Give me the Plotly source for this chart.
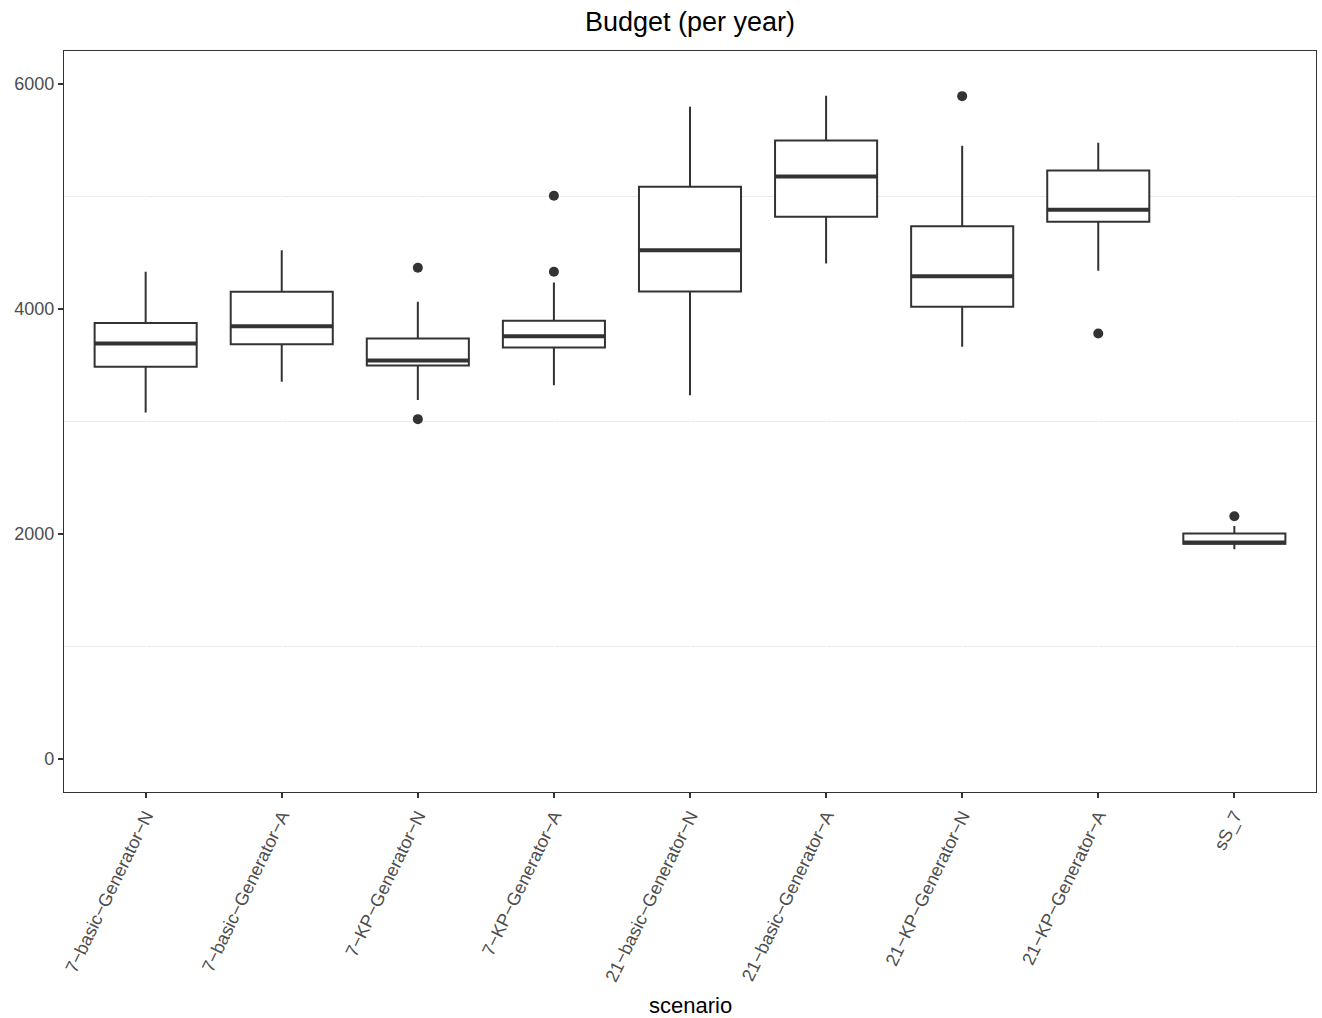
import plotly.graph_objects as go

categories = ["7−basic−Generator−N", "7−basic−Generator−A", "7−KP−Generator−N",
              "7−KP−Generator−A", "21−basic−Generator−N", "21−basic−Generator−A",
              "21−KP−Generator−N", "21−KP−Generator−A", "sS_7"]
lower_whisker = [3080, 3351, 3189, 3322, 3233, 4403, 3662, 4337, 1865]
q1_vals = [3485, 3686, 3497, 3657, 4154, 4817, 4018, 4773, 1912]
median_vals = [3692, 3846, 3541, 3757, 4521, 5176, 4290, 4879, 1925]
q3_vals = [3873, 4151, 3737, 3893, 5084, 5496, 4734, 5229, 2005]
upper_whisker = [4329, 4521, 4062, 4234, 5794, 5892, 5448, 5474, 2070]
outlier_cat = ["7−KP−Generator−N", "7−KP−Generator−N", "7−KP−Generator−A",
               "7−KP−Generator−A", "21−KP−Generator−N", "21−KP−Generator−A", "sS_7"]
outlier_val = [4364, 3020, 5004, 4329, 5889, 3781, 2158]

ink = "#333333"
fig = go.Figure()
fig.add_trace(go.Box(
    x=categories, q1=q1_vals, median=median_vals, q3=q3_vals,
    lowerfence=lower_whisker, upperfence=upper_whisker,
    width=0.75, fillcolor="white", line=dict(color=ink, width=2),
    whiskerwidth=0, boxpoints=False, showlegend=False, hoverinfo="skip"))
# thicker median line as in ggplot
fig.add_trace(go.Scatter(
    x=categories, y=median_vals, mode="markers",
    marker=dict(symbol="line-ew", size=73.5, line=dict(color=ink, width=4)),
    showlegend=False, hoverinfo="skip"))
fig.add_trace(go.Scatter(
    x=outlier_cat, y=outlier_val, mode="markers",
    marker=dict(symbol="circle", size=10, color=ink),
    showlegend=False, hoverinfo="skip"))

font = "Liberation Sans, Arial, sans-serif"
fig.update_layout(
    width=1322, height=1018,
    margin=dict(l=64, r=6, t=51, b=226),
    paper_bgcolor="white", plot_bgcolor="white",
    font=dict(family=font, color="#4d4d4d"),
    title=dict(text="Budget (per year)", x=0.5, xref="paper", y=1 - 22 / 1018,
               yref="container", xanchor="center", yanchor="middle",
               font=dict(size=27, color="black", family=font)),
    showlegend=False,
)
fig.update_xaxes(
    type="category", categoryorder="array", categoryarray=categories,
    range=[-0.6, len(categories) - 0.4],
    showgrid=True, gridcolor="white", gridwidth=2,
    showline=True, mirror=True, linecolor=ink, linewidth=1.3,
    ticks="outside", ticklen=5, tickwidth=1.5, tickcolor=ink,
    tickangle=-64, tickfont=dict(size=18, color="#4d4d4d", family=font),
    zeroline=False,
)
fig.update_yaxes(
    range=[-292, 6290], tickvals=[0, 2000, 4000, 6000],
    showgrid=False,
    minor=dict(tickvals=[1000, 3000, 5000], showgrid=True, gridcolor="#ebebeb",
               gridwidth=1.2, ticks=""),
    showline=True, mirror=True, linecolor=ink, linewidth=1.3,
    ticks="outside", ticklen=5, tickwidth=1.5, tickcolor=ink,
    tickfont=dict(size=18, color="#4d4d4d", family=font),
    zeroline=False,
)
fig.add_annotation(text="scenario", xref="paper", yref="paper", x=0.5,
                   y=-(1005 - 792) / 741, xanchor="center", yanchor="middle",
                   borderpad=0, showarrow=False,
                   font=dict(size=22, color="black", family=font))

fig.write_html("out.html")
